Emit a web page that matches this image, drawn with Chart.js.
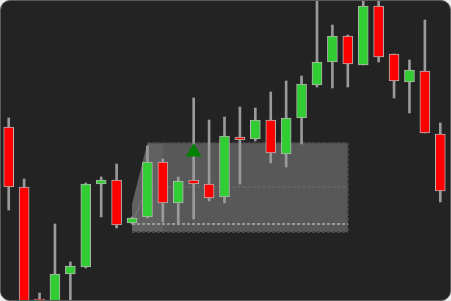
<!DOCTYPE html>
<html>
<head>
<meta charset="utf-8">
<script src="https://cdn.jsdelivr.net/npm/chart.js@4/dist/chart.umd.min.js"></script>
<style>
  html, body { margin: 0; padding: 0; background: #ececec; }
  #wrap {
    position: absolute; left: 0; top: 0;
    width: 451px; height: 301px;
    box-sizing: border-box;
    border: 1px solid #5a5a5a;
    border-radius: 10px;
    background: #232323;
    overflow: hidden;
  }
  canvas { display: block; }
</style>
</head>
<body>
<div id="wrap"><canvas id="chart" width="449" height="299"></canvas></div>
<script>
/* candlestick chart: 29 sessions, gray zone box + one buy signal */

const labels = Array.from({ length: 29 }, (_, i) => String(i + 1));

const opens  = [117.3, 111.3, 100.1,  99.4, 102.6, 103.3, 111.6, 112.0, 107.7, 108.3,
                113.8, 109.7, 112.0, 111.6, 110.3, 116.3, 116.1, 118.0, 114.6, 118.2,
                121.5, 123.8, 126.4, 123.5, 129.4, 124.6, 121.8, 122.9, 116.6];
const highs  = [118.2, 112.1, 100.7, 107.6, 103.8, 111.7, 112.3, 113.6, 108.3, 115.4,
                114.1, 112.3, 120.2, 118.0, 118.3, 119.3, 119.2, 120.8, 121.9, 122.4,
                130.5, 127.5, 126.5, 130.5, 130.5, 124.6, 124.0, 128.0, 117.7];
const lows   = [109.0,  99.4,  99.4,  99.0,  99.0, 103.2, 108.3, 107.2, 107.6, 108.2,
                107.8, 107.6, 108.1, 109.9, 109.7, 111.6, 115.9, 113.7, 113.3, 115.6,
                121.3, 121.2, 121.3, 123.5, 123.8, 120.2, 118.7, 116.7, 109.8];
const closes = [111.3,  99.7, 100.0, 102.6, 103.4, 111.6, 112.0, 107.5, 108.2, 113.8,
                109.7, 111.9, 111.6, 110.2, 116.4, 116.0, 118.0, 114.7, 118.2, 121.6,
                123.8, 126.4, 123.6, 129.4, 124.3, 121.9, 123.0, 116.7, 110.9];

// buy signal marker
const signalIndex = 12;
const signalPrice = 114.8;

// consolidation zone (candle indices + price levels)
const zoneStart  = 8;
const zoneBevel  = 9;
const zoneLight  = 10;
const zoneEnd    = 22;
const zoneTop    = 115.7;
const zoneMid    = 111.3;
const zoneLine   = 107.6;
const zoneBottom = 106.8;
const zoneCut    = 109.6;

const UP   = '#32cd32';
const DOWN = '#ff0000';

const isUp = closes.map((c, i) => c >= opens[i]);

const zonePlugin = {
  id: 'zone',
  beforeDatasetsDraw(chart) {
    const { ctx, chartArea, scales: { x, y } } = chart;
    const x0 = x.getPixelForValue(zoneStart);
    const x1 = x.getPixelForValue(zoneBevel);
    const x2 = x.getPixelForValue(zoneLight);
    const x3 = x.getPixelForValue(zoneEnd);
    const yt = y.getPixelForValue(zoneTop);
    const ym = y.getPixelForValue(zoneMid);
    const yl = y.getPixelForValue(zoneLine);
    const yb = y.getPixelForValue(zoneBottom);
    const yc = y.getPixelForValue(zoneCut);

    ctx.save();
    ctx.beginPath();
    ctx.rect(chartArea.left, chartArea.top, chartArea.width, chartArea.height);
    ctx.clip();

    // main body of the zone
    ctx.beginPath();
    ctx.moveTo(x0, yc);
    ctx.lineTo(x1, yt);
    ctx.lineTo(x3, yt);
    ctx.lineTo(x3, yb);
    ctx.lineTo(x0, yb);
    ctx.closePath();
    ctx.fillStyle = 'rgba(128,128,128,0.58)';
    ctx.fill();

    // lighter front face
    ctx.beginPath();
    ctx.moveTo(x0, yc);
    ctx.lineTo(x1, yt);
    ctx.lineTo(x2, yt);
    ctx.lineTo(x2, yb);
    ctx.lineTo(x0, yb);
    ctx.closePath();
    ctx.fillStyle = 'rgba(255,255,255,0.05)';
    ctx.fill();

    // faint diagonal
    ctx.strokeStyle = 'rgba(150,150,150,0.5)';
    ctx.lineWidth = 1;
    ctx.beginPath();
    ctx.moveTo(x0, yl);
    ctx.lineTo(x1, ym);
    ctx.stroke();

    ctx.setLineDash([3, 2]);
    ctx.lineWidth = 2;
    ctx.strokeStyle = '#4a4a4a';
    ctx.beginPath();
    ctx.moveTo(x1, yt); ctx.lineTo(x3, yt);
    ctx.moveTo(x0, yb); ctx.lineTo(x3, yb);
    ctx.moveTo(x3, yt); ctx.lineTo(x3, yb);
    ctx.stroke();

    ctx.lineWidth = 1;
    ctx.strokeStyle = '#707070';
    ctx.beginPath();
    ctx.moveTo(x1, ym); ctx.lineTo(x3, ym);
    ctx.stroke();

    ctx.lineWidth = 2;
    ctx.strokeStyle = '#9a9a9a';
    ctx.beginPath();
    ctx.moveTo(x0, yl); ctx.lineTo(x3, yl);
    ctx.stroke();

    ctx.restore();
  }
};

new Chart(document.getElementById('chart'), {
  type: 'bar',
  data: {
    labels,
    datasets: [
      {
        type: 'line',
        data: labels.map((_, i) => i === signalIndex ? signalPrice : null),
        showLine: false,
        pointStyle: 'triangle',
        pointRadius: 9,
        backgroundColor: '#008000',
        borderColor: '#008000',
        borderWidth: 0,
        order: 0,
      },
      {
        data: opens.map((o, i) => [o, closes[i]]),
        backgroundColor: isUp.map(u => u ? UP : DOWN),
        borderColor: '#b4b4b4',
        borderWidth: 1,
        borderSkipped: false,
        barThickness: 10,
        grouped: false,
        order: 1,
      },
      {
        data: lows.map((l, i) => [l, highs[i]]),
        backgroundColor: '#9a9a9a',
        borderWidth: 0,
        barThickness: 2,
        grouped: false,
        order: 2,
      },
    ]
  },
  options: {
    responsive: false,
    animation: false,
    layout: { autoPadding: false, padding: { left: 0, right: 2, top: 0, bottom: 0 } },
    scales: {
      x: { display: false, offset: true },
      y: { display: false, min: 100, max: 129.9 },
    },
    plugins: {
      legend:  { display: false },
      tooltip: { enabled: false },
    }
  },
  plugins: [zonePlugin]
});
</script>
</body>
</html>
